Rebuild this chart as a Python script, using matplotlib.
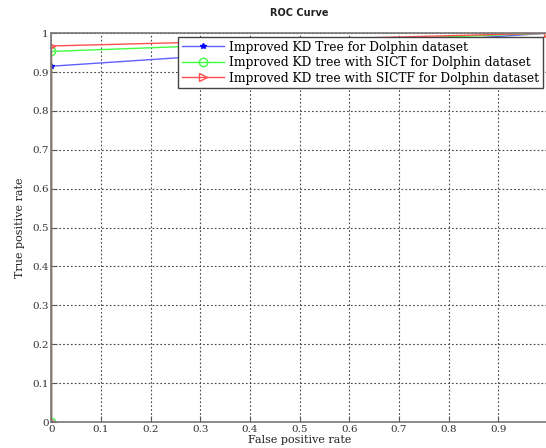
import matplotlib
matplotlib.use("Agg")
import matplotlib.pyplot as plt

fpr = [0, 0, 1]
tpr_kd = [0, 0.915, 1]
tpr_sict = [0, 0.953, 1]
tpr_sictf = [0, 0.967, 1]
labels = ["Improved KD Tree for Dolphin dataset",
          "Improved KD tree with SICT for Dolphin dataset",
          "Improved KD tree with SICTF for Dolphin dataset"]
xticks = [0, 0.1, 0.2, 0.3, 0.4, 0.5, 0.6, 0.7, 0.8, 0.9, 1]
yticks = [0, 0.1, 0.2, 0.3, 0.4, 0.5, 0.6, 0.7, 0.8, 0.9, 1]

fig = plt.figure(figsize=(5.46, 4.48), dpi=100)
ax = fig.add_axes([0.0943, 0.058, 0.909, 0.868])
serif = "DejaVu Serif"
ax.plot(fpr, tpr_kd, color="#6060ff", marker="*", markersize=4, lw=1, label=labels[0], mfc="blue", mec="blue")
ax.plot(fpr, tpr_sict, color="#40ff40", marker="o", markersize=6, mfc="none", lw=1, label=labels[1])
ax.plot(fpr, tpr_sictf, color="#ff5050", marker=">", markersize=6, mfc="none", lw=1, label=labels[2])
ax.set_xlim(0, 1)
ax.set_ylim(0, 1)
ax.set_xticks(xticks)
ax.set_yticks(yticks)
ax.set_xticklabels([f"{v:g}" for v in xticks], family=serif, fontsize=7.5, color="#333333")
ax.set_yticklabels([f"{v:g}" for v in yticks], family=serif, fontsize=7.5, color="#333333")
ax.tick_params(direction="in", length=4, color="#555555", pad=2)
ax.grid(True, linestyle=(0, (1.5, 2)), color="#444444", lw=0.8)
for s in ax.spines.values():
    s.set_color("#777777")
    s.set_linewidth(1.2)
ax.set_xlabel("False positive rate", family=serif, fontsize=8, labelpad=1, color="#222222")
ax.set_ylabel("True positive rate", family=serif, fontsize=8, labelpad=5, color="#222222")
ax.set_title("ROC Curve", fontsize=7, fontweight="bold", pad=12, color="#222222")
leg = ax.legend(loc="upper right", bbox_to_anchor=(543/546, 1 - 37/448), bbox_transform=fig.transFigure,
                prop={"family": serif, "size": 8.8}, frameon=True, fancybox=False, handlelength=3.5,
                borderpad=0.3, labelspacing=0.2, handletextpad=0.4, borderaxespad=0)
leg.get_frame().set_edgecolor("#444444")
leg.get_frame().set_linewidth(1)
leg.get_frame().set_alpha(1)
fig.savefig("out.png", dpi=100)
